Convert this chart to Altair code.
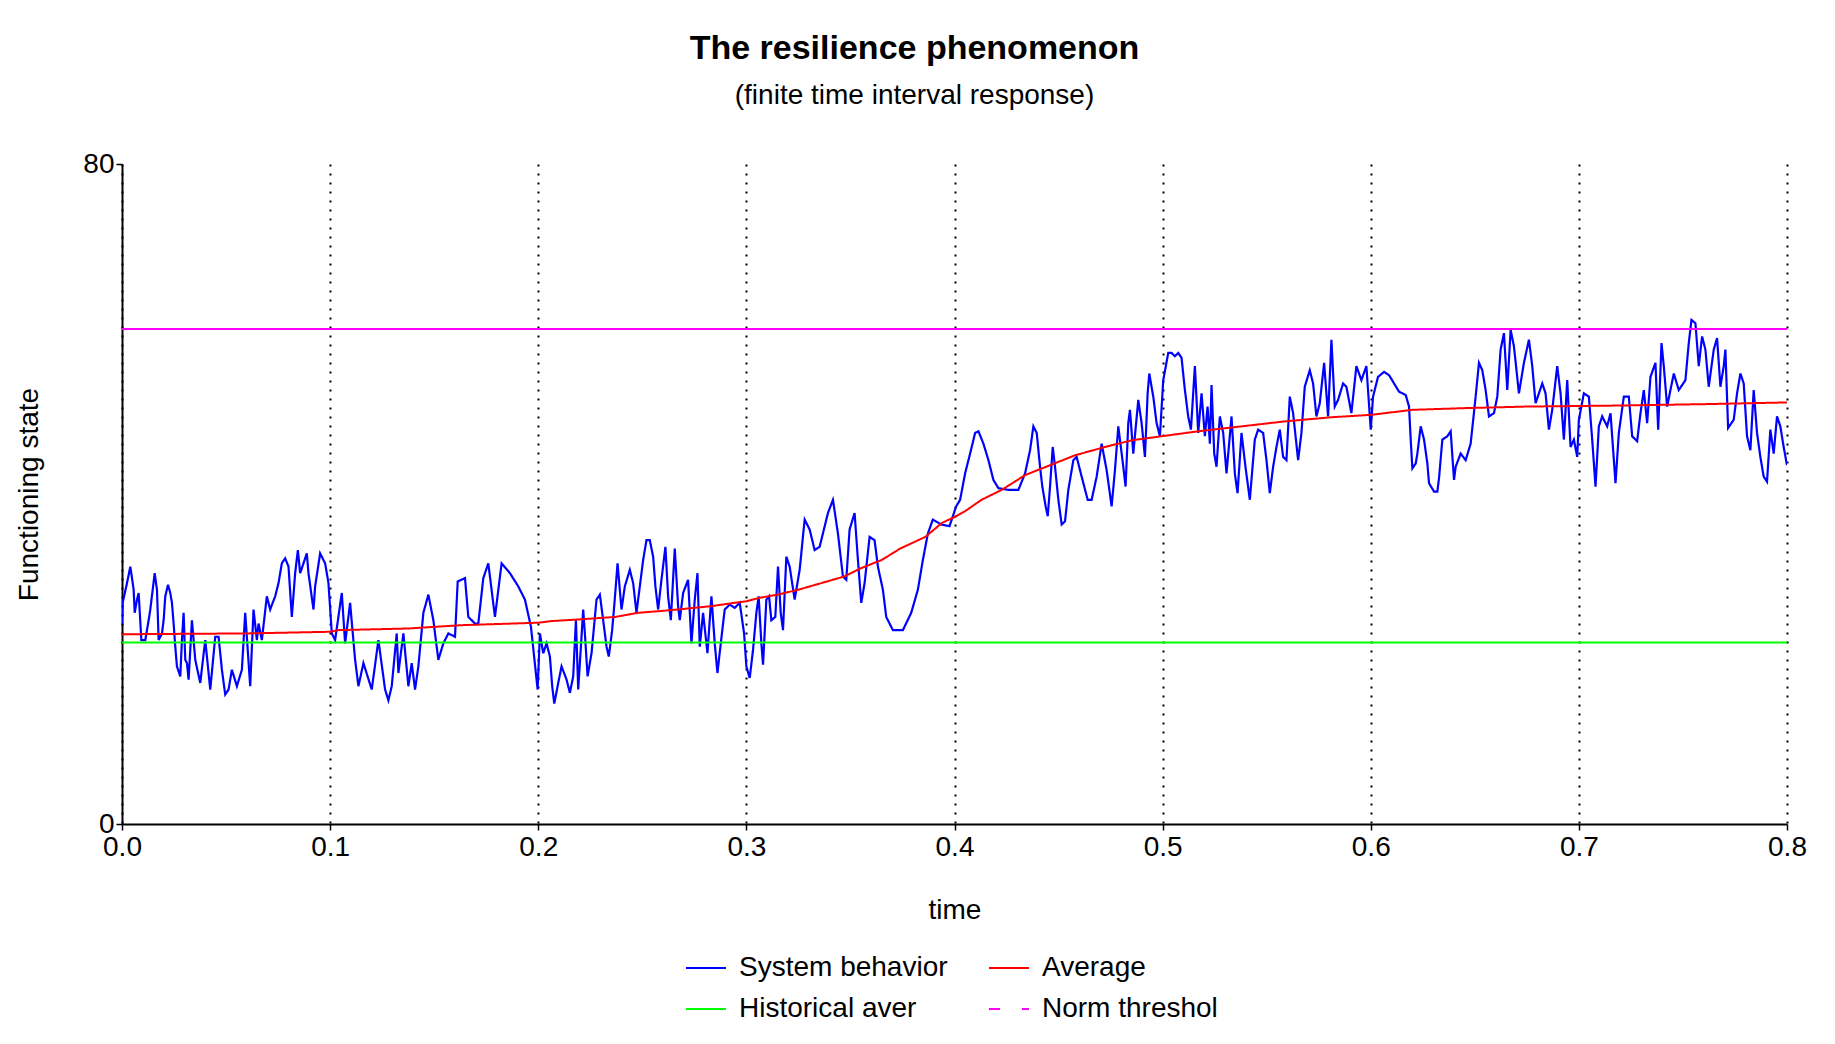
import altair as alt
import pandas as pd

FONT = "Liberation Sans"

# ---- System behavior (time, value) ----
t_sys_1 = [0.0, 0.0003, 0.0024, 0.004, 0.0048, 0.0056, 0.0061, 0.0072, 0.008, 0.0093, 0.0112, 0.0128,
           0.0136, 0.0157, 0.0168, 0.0176, 0.0192, 0.02, 0.0208, 0.0221, 0.0232, 0.024, 0.0248, 0.0256,
           0.0264, 0.028, 0.0288, 0.0296, 0.0304, 0.0312, 0.032, 0.0336, 0.0352, 0.0376, 0.04, 0.0424,
           0.0448, 0.0464, 0.048, 0.0496, 0.0512, 0.0528, 0.0552, 0.0576, 0.0592, 0.0616, 0.0632, 0.0648,
           0.0656, 0.0672, 0.0696, 0.0712, 0.0736, 0.0752, 0.0768, 0.0784, 0.08, 0.0816, 0.0832, 0.0845,
           0.0856, 0.0888, 0.0896, 0.092, 0.0928, 0.0952, 0.0976, 0.0992, 0.1008, 0.1024, 0.1056, 0.1072,
           0.1096, 0.112, 0.1136, 0.116, 0.12, 0.1232, 0.1264, 0.128, 0.1296, 0.132, 0.1328, 0.1352,
           0.1376, 0.1392, 0.1408, 0.1424, 0.1448, 0.1472, 0.1496, 0.152, 0.1544, 0.1568, 0.16, 0.1613,
           0.1648, 0.1664, 0.1696, 0.1712, 0.1736, 0.176, 0.1792, 0.1824, 0.1864, 0.1904, 0.1936, 0.1965,
           0.1997]
v_sys_1 = [24.3, 26.8, 29.2, 31.2, 29.8, 28.4, 25.6, 27.2, 28.0, 22.3, 22.3, 24.7,
           26.0, 30.4, 28.4, 22.3, 23.1, 24.7, 27.6, 29.0, 28.0, 26.8, 24.3, 21.5,
           19.1, 17.9, 22.3, 25.6, 19.9, 19.5, 17.5, 24.7, 19.9, 17.1, 22.3, 16.3,
           22.7, 22.7, 18.7, 15.7, 16.3, 18.7, 16.7, 18.7, 25.6, 16.7, 26.0, 22.3,
           24.3, 22.3, 27.6, 26.0, 27.6, 29.2, 31.6, 32.2, 31.2, 25.1, 30.4, 33.2,
           30.4, 32.8, 30.4, 26.0, 28.8, 32.8, 31.6, 29.2, 23.1, 22.3, 28.0, 21.9,
           26.8, 19.9, 16.7, 19.5, 16.3, 22.3, 16.3, 15.0, 16.7, 23.1, 18.3, 23.1,
           16.7, 19.5, 16.3, 19.1, 25.6, 27.8, 24.7, 19.9, 21.9, 23.1, 22.7, 29.4,
           29.8, 25.1, 24.3, 24.3, 29.8, 31.6, 25.1, 31.6, 30.4, 28.8, 27.2, 23.9,
           16.3]

t_sys_2 = [0.2008, 0.2024, 0.204, 0.2056, 0.2067, 0.2077, 0.2096, 0.2112, 0.2136, 0.2152, 0.2168, 0.2181,
           0.2192, 0.2216, 0.2224, 0.2237, 0.2256, 0.228, 0.2296, 0.2312, 0.2328, 0.2339, 0.2355, 0.2365,
           0.2381, 0.24, 0.2416, 0.244, 0.2456, 0.2472, 0.2488, 0.2504, 0.252, 0.2536, 0.2552, 0.2563,
           0.2576, 0.2592, 0.2611, 0.2624, 0.2637, 0.2656, 0.2672, 0.268, 0.2696, 0.272, 0.2736, 0.2752,
           0.2765, 0.2776, 0.2792, 0.2813, 0.2832, 0.2848, 0.2861, 0.2877, 0.2896, 0.292, 0.2944, 0.2968,
           0.2989, 0.3, 0.3016, 0.3032, 0.3048, 0.3059, 0.3072, 0.308, 0.3096, 0.3109, 0.312, 0.3139,
           0.3152, 0.3165, 0.3176, 0.3192, 0.3208, 0.3232, 0.3256, 0.328, 0.3304, 0.3328, 0.3352, 0.3392,
           0.3416, 0.344, 0.3464, 0.348, 0.3496, 0.352, 0.3536, 0.3552, 0.3568, 0.3592, 0.3616, 0.3632,
           0.3656, 0.3672, 0.3704, 0.3752, 0.3792, 0.3824, 0.3848, 0.3872, 0.3896, 0.3936, 0.3976, 0.4008]
v_sys_2 = [23.1, 20.7, 21.9, 20.3, 16.7, 14.6, 17.1, 19.1, 17.5, 15.9, 17.9, 24.7,
           16.3, 26.0, 23.1, 17.9, 20.7, 27.2, 27.8, 24.7, 21.5, 20.3, 23.5, 26.4,
           31.6, 26.0, 28.8, 30.8, 29.2, 25.6, 28.8, 32.0, 34.4, 34.4, 32.4, 28.8,
           26.0, 29.6, 33.6, 27.6, 24.7, 33.4, 26.4, 24.7, 28.0, 29.6, 21.9, 27.2,
           30.4, 21.5, 25.6, 20.7, 27.6, 21.9, 18.3, 21.9, 26.0, 26.6, 26.2, 26.8,
           23.1, 19.1, 17.7, 21.1, 25.6, 27.6, 21.9, 19.3, 27.2, 27.6, 24.7, 25.1,
           31.2, 25.6, 23.5, 32.4, 31.2, 27.2, 30.8, 36.9, 35.7, 33.2, 33.6, 37.7,
           39.3, 35.2, 30.0, 29.6, 35.7, 37.7, 32.0, 26.8, 29.2, 34.8, 34.4, 31.2,
           28.4, 25.1, 23.5, 23.5, 25.6, 28.4, 32.0, 35.2, 36.9, 36.3, 36.1, 38.5]

t_sys_3 = [0.4027, 0.4051, 0.4075, 0.4099, 0.4115, 0.4139, 0.4163, 0.4187, 0.4211, 0.4259, 0.4307, 0.4339,
           0.4363, 0.4379, 0.4395, 0.4411, 0.4422, 0.4438, 0.4448, 0.4459, 0.4472, 0.4483, 0.4499, 0.4515,
           0.4531, 0.4547, 0.4571, 0.4587, 0.4611, 0.464, 0.4659, 0.4683, 0.4707, 0.4731, 0.4755, 0.4771,
           0.4787, 0.4811, 0.4822, 0.4835, 0.4843, 0.4859, 0.4883, 0.4899, 0.4915, 0.4928, 0.4936, 0.4955,
           0.4971, 0.4987, 0.5003, 0.5027, 0.5043, 0.5059, 0.5075, 0.5091, 0.5107, 0.5123, 0.5136, 0.5155,
           0.5171, 0.5187, 0.5203, 0.5216, 0.5227, 0.5235, 0.5248, 0.5259, 0.5275, 0.5291, 0.5307, 0.5331,
           0.5347, 0.536, 0.5379, 0.5398, 0.5419, 0.5443, 0.5459, 0.5483, 0.5499, 0.5515, 0.5531, 0.5547,
           0.5563, 0.5579, 0.5595, 0.5611, 0.5627, 0.5651, 0.5667, 0.5683, 0.5707, 0.5723, 0.5739, 0.5755,
           0.5776, 0.5795, 0.5811, 0.5827, 0.5843, 0.5867, 0.5883, 0.5907, 0.5931, 0.5955, 0.5979, 0.6,
           0.6011, 0.6035]
v_sys_3 = [39.3, 42.5, 44.9, 47.4, 47.6, 46.1, 44.1, 41.7, 40.7, 40.5, 40.5, 42.5,
           45.3, 48.2, 47.4, 43.3, 40.9, 38.5, 37.3, 40.9, 45.7, 43.3, 39.3, 36.3,
           36.7, 40.5, 44.1, 44.5, 42.1, 39.3, 39.3, 42.1, 46.1, 42.9, 38.5, 42.9,
           48.2, 43.3, 40.9, 48.6, 50.2, 44.9, 51.4, 48.6, 44.5, 52.2, 54.6, 51.8,
           48.6, 47.0, 53.8, 57.1, 57.1, 56.7, 57.1, 56.5, 52.6, 49.4, 47.8, 55.5,
           47.4, 52.2, 47.0, 50.6, 46.1, 53.2, 44.9, 43.3, 49.4, 47.4, 42.5, 49.4,
           42.5, 40.1, 47.4, 43.3, 39.3, 46.6, 47.8, 47.4, 44.1, 40.1, 43.3, 45.7,
           47.8, 44.5, 44.1, 51.8, 49.8, 44.1, 47.4, 53.0, 55.0, 53.4, 49.4, 51.0,
           55.9, 49.4, 58.7, 50.6, 51.4, 53.4, 53.0, 49.8, 55.5, 53.8, 55.5, 47.8,
           51.8, 54.2]

t_sys_4 = [0.6064, 0.6088, 0.6112, 0.6136, 0.6168, 0.6184, 0.6192, 0.62, 0.6216, 0.6224, 0.624, 0.6256,
           0.6272, 0.628, 0.6304, 0.632, 0.6328, 0.6344, 0.6368, 0.6384, 0.64, 0.6408, 0.6432, 0.6456,
           0.648, 0.6504, 0.652, 0.6536, 0.6552, 0.6568, 0.6592, 0.6608, 0.6624, 0.664, 0.6656, 0.6672,
           0.6688, 0.6712, 0.6736, 0.676, 0.6776, 0.6792, 0.6824, 0.684, 0.6856, 0.6872, 0.6896, 0.6912,
           0.6928, 0.6944, 0.696, 0.6976, 0.6992, 0.7, 0.7024, 0.7048, 0.7064, 0.708, 0.7096, 0.7112,
           0.7136, 0.7152, 0.7176, 0.7192, 0.7216, 0.724, 0.7256, 0.728, 0.7296, 0.7312, 0.7328, 0.7344,
           0.7368, 0.7381, 0.7397, 0.7408, 0.7424, 0.744, 0.7456, 0.748, 0.7512, 0.7528, 0.7541, 0.756,
           0.7576, 0.7592, 0.7608, 0.7624, 0.7648, 0.7664, 0.768, 0.7696, 0.7704, 0.7717, 0.7744, 0.776,
           0.7776, 0.7792, 0.7808, 0.7824, 0.784, 0.7856, 0.7872, 0.7888, 0.7904, 0.792, 0.7936, 0.7952,
           0.7968, 0.7984, 0.8]
v_sys_4 = [54.8, 54.4, 53.4, 52.4, 52.0, 50.6, 46.6, 43.1, 43.7, 44.9, 48.2, 46.6,
           43.7, 41.3, 40.3, 40.3, 41.9, 46.6, 47.0, 47.6, 41.7, 43.3, 44.9, 44.1,
           46.1, 51.8, 55.9, 55.0, 52.6, 49.4, 49.8, 51.8, 57.5, 59.5, 52.6, 59.9,
           57.9, 52.2, 55.9, 58.7, 55.5, 51.0, 53.4, 52.2, 47.8, 50.2, 55.5, 52.2,
           46.6, 53.8, 45.7, 46.6, 44.5, 49.0, 52.2, 51.8, 46.6, 40.9, 48.2, 49.4,
           48.2, 49.8, 41.3, 47.4, 51.8, 51.8, 47.0, 46.4, 49.8, 52.6, 48.6, 54.2,
           55.9, 47.8, 58.3, 55.5, 50.6, 52.6, 54.6, 52.6, 53.8, 58.3, 61.1, 60.7,
           55.5, 59.1, 57.5, 53.0, 57.5, 58.9, 53.0, 55.5, 57.5, 48.0, 49.0, 52.2,
           54.6, 53.4, 47.0, 45.3, 52.6, 47.4, 44.5, 42.1, 41.5, 47.8, 44.9, 49.4,
           48.2, 45.7, 43.5]

# ---- Average (red) ----
t_avg = [0.0, 0.06, 0.1, 0.104, 0.138, 0.163, 0.188, 0.2, 0.2064, 0.22, 0.237, 0.248, 0.258, 0.267,
         0.283, 0.294, 0.3, 0.306, 0.315, 0.325, 0.336, 0.347, 0.355, 0.365, 0.374, 0.386, 0.394, 0.4,
         0.405, 0.413, 0.4227, 0.434, 0.448, 0.458, 0.4723, 0.485, 0.4995, 0.517, 0.538, 0.5587, 0.581,
         0.6003, 0.62, 0.644, 0.6752, 0.7128, 0.7624, 0.8]
v_avg = [23.0, 23.1, 23.3, 23.5, 23.7, 24.1, 24.3, 24.4, 24.6, 24.8, 25.1, 25.6, 25.8, 26.0,
         26.4, 26.8, 27.0, 27.4, 27.8, 28.4, 29.2, 30.0, 31.0, 32.0, 33.4, 34.8, 36.5, 37.2,
         37.9, 39.3, 40.5, 42.3, 43.7, 44.7, 45.7, 46.5, 47.0, 47.6, 48.2, 48.8, 49.3,
         49.6, 50.2, 50.4, 50.6, 50.7, 50.9, 51.1]

# ---- Constant lines ----
t_hist = [0.0, 0.8]
v_hist = [22.0, 22.0]
t_norm = [0.0, 0.8]
v_norm = [60.0, 60.0]

series_names = ["System behavior", "Average", "Historical aver", "Norm threshol"]
series_colors = ["#0000ff", "#ff0000", "#00ff00", "#ff00ff"]
series_dashes = [[1, 0], [1, 0], [1, 0], [11, 22]]
x_ticks = [0.0, 0.1, 0.2, 0.3, 0.4, 0.5, 0.6, 0.7, 0.8]
y_ticks = [0, 80]

rows = []
def add(name, ts, vs):
    for t, v in zip(ts, vs):
        rows.append({"series": name, "t": t, "v": v})

add("System behavior", t_sys_1 + t_sys_2 + t_sys_3 + t_sys_4, v_sys_1 + v_sys_2 + v_sys_3 + v_sys_4)
add("Average", t_avg, v_avg)
add("Historical aver", t_hist, v_hist)
add("Norm threshol", t_norm, v_norm)
df = pd.DataFrame(rows)

legend = alt.Legend(
    title=None, orient="none", legendX=563, legendY=783, columns=2, direction="horizontal",
    symbolType="stroke", symbolSize=1600, symbolStrokeWidth=2,
    labelFont=FONT, labelFontSize=28, labelColor="black", labelOffset=12, labelLimit=0,
    columnPadding=37, rowPadding=6,
)

x_enc = alt.X("t:Q", scale=alt.Scale(domain=[0, 0.8], nice=False, zero=False),
              axis=alt.Axis(values=x_ticks, format=".1f", grid=True, gridDash=[2, 7],
                            gridColor="black", gridWidth=2, gridOpacity=1,
                            domainColor="black", domainWidth=2, tickColor="black", tickSize=6,
                            tickWidth=1.5, labelFont=FONT, labelFontSize=28, labelColor="black",
                            labelFlush=False, labelOverlap=False, labelPadding=3,
                            title="time", titleFont=FONT, titleFontSize=28, titleFontWeight="normal",
                            titleColor="black", titlePadding=35))
y_enc = alt.Y("v:Q", scale=alt.Scale(domain=[0, 80], nice=False),
              axis=alt.Axis(values=y_ticks, grid=False, domainColor="black", domainWidth=2,
                            tickColor="black", tickSize=6, tickWidth=1.5, labelFont=FONT,
                            labelFontSize=28, labelColor="black", labelFlush=False, labelPadding=2,
                            title="Functioning state", titleFont=FONT, titleFontSize=28,
                            titleFontWeight="normal", titleColor="black", titlePadding=39))
color_enc = alt.Color("series:N", scale=alt.Scale(domain=series_names, range=series_colors), legend=legend)
dash_enc = alt.StrokeDash("series:N", scale=alt.Scale(domain=series_names, range=series_dashes), legend=legend)

def layer_for(name, width=2):
    return alt.Chart(df).transform_filter(alt.datum.series == name).mark_line(
        strokeWidth=width, clip=True).encode(x=x_enc, y=y_enc, color=color_enc, strokeDash=dash_enc)

pink_solid = alt.Chart(df).transform_filter(alt.datum.series == "Norm threshol").mark_line(
    strokeWidth=2, color="#ff00ff", clip=True).encode(x=x_enc, y=y_enc)

chart = alt.layer(
    layer_for("System behavior", 2.2),
    layer_for("Historical aver"),
    layer_for("Average"),
    layer_for("Norm threshol"),
    pink_solid,
).properties(
    width=1665, height=660,
    title=alt.TitleParams(text="The resilience phenomenon", subtitle="(finite time interval response)",
                          font=FONT, fontSize=34, fontWeight="bold", color="black",
                          subtitleFont=FONT, subtitleFontSize=28, subtitleColor="black",
                          anchor="middle", dx=-40, offset=40, subtitlePadding=16),
    padding={"left": 114, "top": 156, "right": 20, "bottom": 205},
    autosize=alt.AutoSizeParams(type="none"),
).configure(background="white", view=alt.ViewConfig(stroke=None))

chart.save("out.html", embed_options={"renderer": "svg", "actions": False})
